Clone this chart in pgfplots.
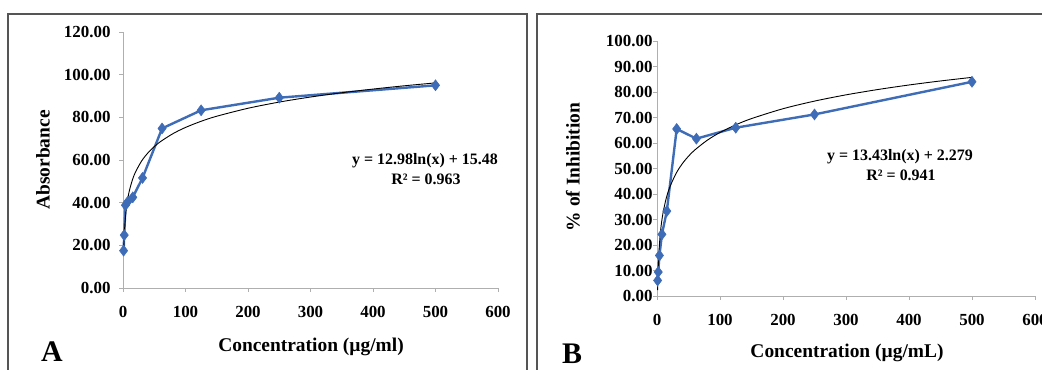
\documentclass[border=0pt]{standalone}
\usepackage{pgfplots}
\pgfplotsset{compat=1.18}
\usepackage{fontspec}
\setmainfont{Liberation Serif}
\definecolor{serblue}{RGB}{62,108,182}
\definecolor{axgray}{RGB}{175,175,175}
\definecolor{boxgray}{RGB}{85,85,85}
\pgfplotsset{
  panel/.style={
    scale only axis,
    anchor=south west,
    xmin=0, xmax=600,
    axis lines=left,
    axis line style={-, draw=axgray, line width=0.9bp},
    tick style={draw=axgray, line width=0.9bp},
    tick align=outside,
    major tick length=4bp,
    xtick={0,100,...,600},
    /pgf/number format/assume math mode=true,
    ticklabel style={font=\bfseries\fontsize{17}{17}\selectfont},
    yticklabel style={/pgf/number format/fixed, /pgf/number format/fixed zerofill, /pgf/number format/precision=2},
    xticklabel style={yshift=-11bp},
    clip=false,
  },
  obs/.style={color=serblue, line width=2.4bp, mark=diamond*, mark size=5.5bp,
    mark options={solid, fill=serblue, draw=serblue, line width=0.5bp}},
  fit/.style={black, line width=0.9bp, smooth, no marks},
}
\begin{document}
\begin{tikzpicture}[x=1bp,y=1bp]
\useasboundingbox (0,0) rectangle (1042bp,370bp);
\clip (0,0) rectangle (1042bp,370bp);
\draw[boxgray, line width=1.5bp] (8bp,-10bp) -- (8bp,356bp) -- (527bp,356bp) -- (527bp,-10bp);
\draw[boxgray, line width=1.5bp] (537bp,-10bp) -- (537bp,356bp) -- (1060bp,356bp);

% Panel A
\begin{axis}[panel, at={(123bp,82bp)}, width=375bp, height=256bp,
  ymin=0, ymax=120, ytick={0,20,...,120},
  yticklabel style={xshift=-5bp}]
\addplot[obs] coordinates {
 (0.98,17.5) (1.95,24.8) (3.9,38.8) (7.8,40.5) (15.6,42.5) (31.25,51.6)
 (62.5,74.8) (125,83.3) (250,89.2) (500,95.0)};
\addplot[fit] coordinates {
 (1,15.48) (1.5,20.74) (2,24.48) (3,29.74) (5,36.37) (7,40.74) (10,45.37)
 (15,50.63) (20,54.36) (30,59.63) (40,63.36) (50,66.26) (60,68.62) (80,72.36)
 (100,75.26) (125,78.15) (150,80.52) (200,84.25) (250,87.15) (300,89.52)
 (350,91.52) (400,93.25) (450,94.78) (500,96.15)};
\end{axis}

% Panel B
\begin{axis}[panel, at={(657bp,74bp)}, width=378bp, height=255bp,
  ymin=0, ymax=100, ytick={0,10,...,100},
  yticklabel style={xshift=3bp}]
\addplot[obs] coordinates {
 (0.98,6.1) (1.95,9.4) (3.9,15.9) (7.8,24.2) (15.6,33.3) (31.25,65.5)
 (62.5,61.7) (125,66.0) (250,71.2) (500,84.0)};
\addplot[fit] coordinates {
 (1,2.28) (1.5,7.72) (2,11.59) (3,17.03) (5,23.89) (7,28.41) (10,33.20)
 (15,38.65) (20,42.51) (30,47.96) (40,51.82) (50,54.82) (60,57.27) (80,61.13)
 (100,64.13) (125,67.12) (150,69.57) (200,73.44) (250,76.43) (300,78.88)
 (350,80.95) (400,82.75) (450,84.33) (500,85.74)};
\end{axis}

% Labels panel A
\node[font=\bfseries\fontsize{19.5}{20}\selectfont, rotate=90] at (43bp,210bp) {Absorbance};
\node[font=\bfseries\fontsize{19.5}{20}\selectfont] at (311bp,23bp) {Concentration (µg/ml)};
\node[font=\bfseries\fontsize{30}{30}\selectfont] at (52bp,18bp) {A};
\node[font=\bfseries\fontsize{16}{16}\selectfont] at (425bp,209bp) {y = 12.98ln(x) + 15.48};
\node[font=\bfseries\fontsize{16}{16}\selectfont] at (426bp,191bp) {R² = 0.963};

% Labels panel B
\node[font=\bfseries\fontsize{19.5}{20}\selectfont, rotate=90] at (573bp,203bp) {\% of Inhibition};
\node[font=\bfseries\fontsize{19.5}{20}\selectfont] at (847bp,17bp) {Concentration (µg/mL)};
\node[font=\bfseries\fontsize{30}{30}\selectfont] at (572bp,16bp) {B};
\node[font=\bfseries\fontsize{16}{16}\selectfont] at (900bp,213bp) {y = 13.43ln(x) + 2.279};
\node[font=\bfseries\fontsize{16}{16}\selectfont] at (901bp,195bp) {R² = 0.941};
\end{tikzpicture}
\end{document}
